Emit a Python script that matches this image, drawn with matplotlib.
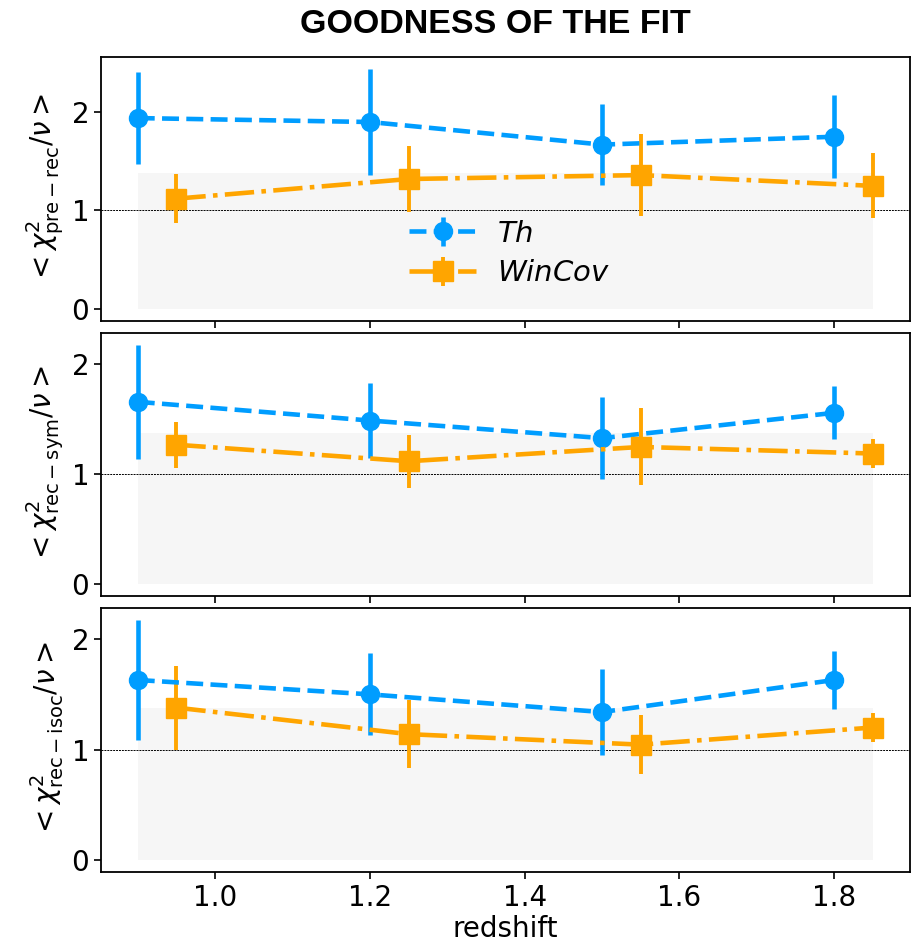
import matplotlib
matplotlib.use("Agg")
import matplotlib.pyplot as plt
import numpy as np

# ---- data ----
z_th = [0.9, 1.2, 1.5, 1.8]
z_wc = [0.95, 1.25, 1.55, 1.85]

th_prerec = [1.94, 1.90, 1.67, 1.75]
th_prerec_err = [0.47, 0.54, 0.41, 0.42]
wc_prerec = [1.12, 1.32, 1.36, 1.25]
wc_prerec_err = [0.25, 0.34, 0.42, 0.33]

th_recsym = [1.66, 1.49, 1.33, 1.56]
th_recsym_err = [0.52, 0.34, 0.37, 0.24]
wc_recsym = [1.27, 1.12, 1.25, 1.19]
wc_recsym_err = [0.21, 0.24, 0.35, 0.13]

th_reciso = [1.63, 1.50, 1.34, 1.63]
th_reciso_err = [0.54, 0.37, 0.39, 0.26]
wc_reciso = [1.38, 1.14, 1.045, 1.20]
wc_reciso_err = [0.38, 0.31, 0.27, 0.13]

band_x = [0.9, 1.85]
band_top = 1.38

ylabels = [r'$<\chi^2_{\rm pre-rec}/\nu>$',
           r'$<\chi^2_{\rm rec-sym}/\nu>$',
           r'$<\chi^2_{\rm rec-isoc}/\nu>$']
xticks = [1.0, 1.2, 1.4, 1.6, 1.8]
yticks = [0, 1, 2]

c_th = '#009DFF'
c_wc = '#FFA500'

fig, axes = plt.subplots(3, 1, figsize=(9.18, 9.49), dpi=100, sharex=True)
fig.subplots_adjust(left=0.110, right=0.991, top=0.940, bottom=0.081, hspace=0.045)

panels = [(th_prerec, th_prerec_err, wc_prerec, wc_prerec_err),
          (th_recsym, th_recsym_err, wc_recsym, wc_recsym_err),
          (th_reciso, th_reciso_err, wc_reciso, wc_reciso_err)]

for i, (ax, (ty, te, wy, we)) in enumerate(zip(axes, panels)):
    ax.fill_between(band_x, 0, band_top, color='#f6f6f6', lw=0, zorder=0)
    ax.axhline(1, color='black', ls=(0, (2, 1)), lw=0.7, zorder=1)
    ax.errorbar(z_th, ty, yerr=te, color=c_th, ls='--', lw=3.3, marker='o',
                markersize=13, elinewidth=3.3, capsize=0, label=r'$Th$', zorder=3)
    ax.errorbar(z_wc, wy, yerr=we, color=c_wc, ls='-.', lw=3.3, marker='s',
                markersize=14.5, elinewidth=2.8, capsize=0, label=r'$WinCov$', zorder=3)
    ax.set_ylabel(ylabels[i], fontsize=20, labelpad=4)
    ax.set_yticks(yticks)
    ax.tick_params(labelsize=20, width=1.2, length=5)
    for s in ax.spines.values():
        s.set_linewidth(1.3)

axes[0].set_title('GOODNESS OF THE FIT', fontsize=24.5, fontweight='bold',
                  family='Liberation Sans', pad=17, x=0.488)
axes[0].legend(loc='center', bbox_to_anchor=(0.505, 0.255), frameon=False,
               fontsize=21, handlelength=2.3, labelspacing=0.4, handletextpad=0.7)
axes[2].set_xticks(xticks)
axes[2].set_xlabel('redshift', fontsize=20, labelpad=2)

fig.savefig('out.png', dpi=100)
